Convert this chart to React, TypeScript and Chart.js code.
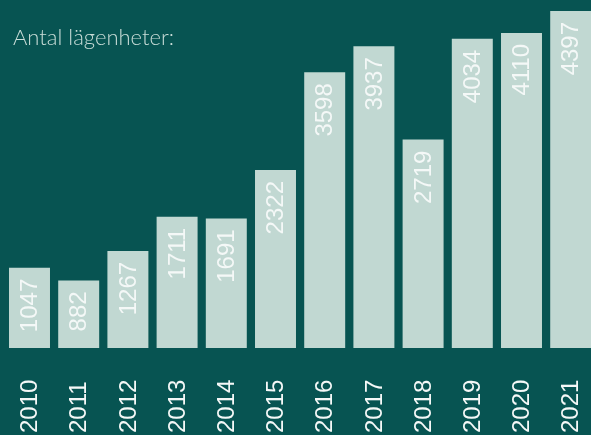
import React, { useEffect, useRef } from "react";
import { Chart, registerables } from "chart.js";

Chart.register(...registerables);

const years = ["2010", "2011", "2012", "2013", "2014", "2015", "2016", "2017", "2018", "2019", "2020", "2021"];
const apartments = [1047, 882, 1267, 1711, 1691, 2322, 3598, 3937, 2719, 4034, 4110, 4397];
const titleText = "Antal lägenheter:";

const BG = "#075452";
const BAR = "#c1d8d2";
const LABEL = "#f4f8f7";

const drawPlugin = {
  id: "customDraw",
  beforeDraw(chart: any) {
    const ctx = chart.ctx;
    ctx.save();
    ctx.fillStyle = BG;
    ctx.fillRect(0, 0, chart.width, chart.height);
    ctx.restore();
  },
  afterDatasetsDraw(chart: any) {
    const ctx = chart.ctx;
    const meta = chart.getDatasetMeta(0);
    ctx.save();
    ctx.fillStyle = LABEL;
    ctx.font = "24px 'Liberation Sans', Arial, sans-serif";
    meta.data.forEach((bar: any, i: number) => {
      // value label inside bar
      ctx.save();
      ctx.translate(bar.x, bar.y + 11);
      ctx.rotate(-Math.PI / 2);
      ctx.textAlign = "right";
      ctx.textBaseline = "middle";
      ctx.fillText(String(apartments[i]), 0, 1);
      ctx.restore();
      // year label at bottom
      ctx.save();
      ctx.translate(bar.x, 433);
      ctx.rotate(-Math.PI / 2);
      ctx.textAlign = "left";
      ctx.textBaseline = "middle";
      ctx.fillText(years[i], 0, 1);
      ctx.restore();
    });
    ctx.fillStyle = "#c9ddd8";
    ctx.font = "300 22px Lato, sans-serif";
    ctx.textAlign = "left";
    ctx.textBaseline = "alphabetic";
    ctx.fillText(titleText, 13, 45);
    ctx.restore();
  },
};

export default function App() {
  const ref = useRef<HTMLCanvasElement | null>(null);
  useEffect(() => {
    document.body.style.margin = "0";
    document.body.style.background = BG;
    const chart = new Chart(ref.current as HTMLCanvasElement, {
      type: "bar",
      data: {
        labels: years,
        datasets: [
          {
            data: apartments,
            backgroundColor: BAR,
            borderWidth: 0,
            categoryPercentage: 1,
            barPercentage: 0.833,
          },
        ],
      },
      options: {
        responsive: false,
        animation: false,
        layout: { padding: { left: 4.9, right: 4.7, top: 0, bottom: 87 } },
        plugins: { legend: { display: false }, tooltip: { enabled: false }, title: { display: false } },
        scales: {
          x: { display: false },
          y: { display: false, min: 0, max: 4540 },
        },
      },
      plugins: [drawPlugin],
    });
    return () => chart.destroy();
  }, []);
  return (
    <div style={{ position: "fixed", left: 0, top: 0, width: 591, height: 435, overflow: "hidden", background: BG }}>
      <canvas ref={ref} width={600} height={435} style={{ display: "block" }} />
    </div>
  );
}
